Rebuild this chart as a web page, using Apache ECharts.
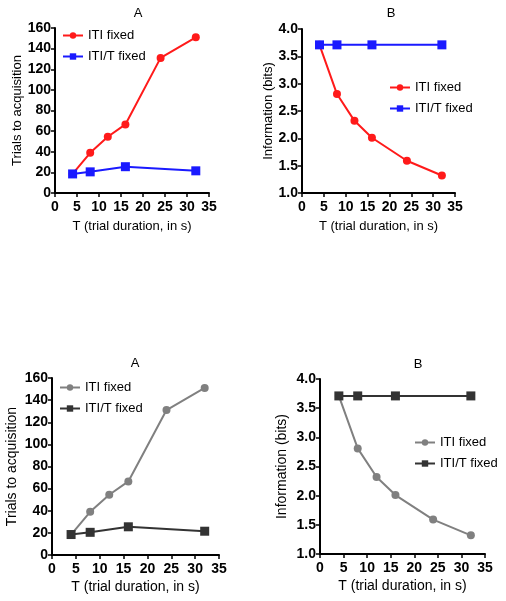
<!DOCTYPE html>
<html>
<head>
<meta charset="utf-8">
<script src="https://cdn.jsdelivr.net/npm/echarts@6/dist/echarts.min.js"></script>
<style>html,body{margin:0;padding:0;background:#fff;}#c{width:506px;height:601px;}</style>
</head>
<body>
<div id="c"></div>
<script>
// ---- data ----
const tITI = [4, 8, 12, 16, 24, 32];
const tRatio = [4, 8, 16, 32];
const trialsITI = [18.5, 39, 54.5, 66.5, 131, 151];
const trialsRatio = [18.5, 20.5, 25.5, 21.5];
const infoITI = [3.71, 2.81, 2.32, 2.01, 1.59, 1.32];
const infoRatio = [3.71, 3.71, 3.71, 3.71];
const panelTitles = ['A', 'B', 'A', 'B'];
const xName = 'T (trial duration, in s)';
const yNames = ['Trials to acquisition', 'Information (bits)', 'Trials to acquisition', 'Information (bits)'];
const seriesNames = [['ITI fixed', 'ITI/T fixed'], ['ITI fixed', 'ITI/T fixed'], ['ITI fixed ', 'ITI/T fixed '], ['ITI fixed ', 'ITI/T fixed ']];

const pairs = (xs, ys) => xs.map((x, i) => [x, ys[i]]);
const FONT = 'Liberation Sans, Arial, sans-serif';

const grids = [
  {left: 55, top: 28, width: 154, height: 165},
  {left: 302, top: 29, width: 153, height: 164},
  {left: 52, top: 378, width: 167, height: 177},
  {left: 320, top: 379, width: 165, height: 175}
];
const titlePos = [[133, 2], [386, 2], [130, 352], [413, 353]];
const yGaps = [30, 27, 33, 31];
const xGaps = [27, 27, 25, 25];
const tickFont = [14, 14, 14, 14];
const nameFont = [13, 13, 14, 14];
const colors = [['#ff1a1a', '#1a1aff'], ['#ff1a1a', '#1a1aff'], ['#808080', '#333333'], ['#808080', '#333333']];
const legendPos = [[57, 24], [384, 76], [54, 376], [409, 431]];

const axisCommon = (i) => ({
  axisLine: {show: true, onZero: false, lineStyle: {color: '#000', width: 2}},
  axisTick: {show: true, inside: false, length: 4, lineStyle: {color: '#000', width: 1.5}},
  splitLine: {show: false},
  nameTextStyle: {fontFamily: FONT, fontSize: nameFont[i], color: '#000'},
  axisLabel: {fontFamily: FONT, fontSize: tickFont[i], fontWeight: 'bold', color: '#000', margin: 7}
});

const xAxes = grids.map((g, i) => Object.assign(axisCommon(i), {
  type: 'value', gridIndex: i, min: 0, max: 35, interval: 5,
  name: xName, nameLocation: 'middle', nameGap: xGaps[i]
}));
const yAxes = grids.map((g, i) => {
  const isA = i % 2 === 0;
  const ax = Object.assign(axisCommon(i), {
    type: 'value', gridIndex: i,
    min: isA ? 0 : 1, max: isA ? 160 : 4, interval: isA ? 20 : 0.5,
    name: yNames[i], nameLocation: 'middle', nameGap: yGaps[i]
  });
  if (!isA) ax.axisLabel.formatter = v => v.toFixed(1);
  ax.axisLabel.margin = 4;
  return ax;
});

const series = [];
grids.forEach((g, i) => {
  const isA = i % 2 === 0;
  const d1 = pairs(tITI, isA ? trialsITI : infoITI);
  const d2 = pairs(tRatio, isA ? trialsRatio : infoRatio);
  series.push({
    name: seriesNames[i][0], type: 'line', xAxisIndex: i, yAxisIndex: i, data: d1,
    symbol: 'circle', symbolSize: 8, color: colors[i][0],
    lineStyle: {width: 2, color: colors[i][0]}, itemStyle: {color: colors[i][0]}, z: 2
  });
  series.push({
    name: seriesNames[i][1], type: 'line', xAxisIndex: i, yAxisIndex: i, data: d2,
    symbol: 'rect', symbolSize: 9, color: colors[i][1],
    lineStyle: {width: 2, color: colors[i][1]}, itemStyle: {color: colors[i][1]}, z: 3
  });
});

const legends = grids.map((g, i) => ({
  data: seriesNames[i], orient: 'vertical', left: legendPos[i][0], top: legendPos[i][1],
  itemWidth: 20, itemHeight: 8, itemGap: 8, selectedMode: false,
  textStyle: {fontFamily: FONT, fontSize: 13, color: '#000'}
}));

const titles = panelTitles.map((t, i) => ({
  text: t, left: titlePos[i][0], top: titlePos[i][1], textAlign: 'center',
  textStyle: {fontFamily: FONT, fontSize: 13, fontWeight: 'normal', color: '#000'}
}));

const chart = echarts.init(document.getElementById('c'), null, {renderer: 'canvas'});
chart.setOption({
  animation: false,
  backgroundColor: '#fff',
  title: titles,
  legend: legends,
  grid: grids,
  xAxis: xAxes,
  yAxis: yAxes,
  series: series
});
</script>
</body>
</html>
